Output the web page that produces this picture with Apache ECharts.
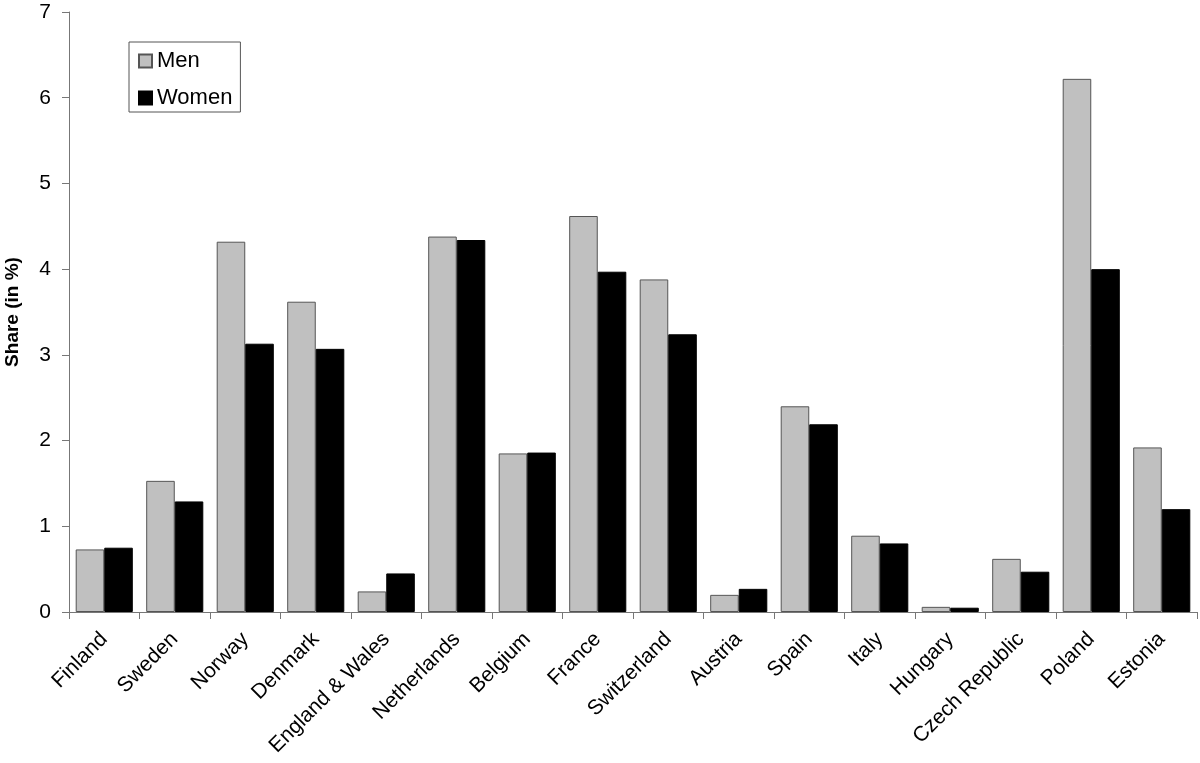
<!DOCTYPE html>
<html>
<head>
<meta charset="utf-8">
<script src="https://cdn.jsdelivr.net/npm/echarts@6/dist/echarts.min.js"></script>
<style>
html,body{margin:0;padding:0;background:#fff;}
#chart{width:1200px;height:763px;}
</style>
</head>
<body>
<div id="chart"></div>
<script>
var categories = ["Finland","Sweden","Norway","Denmark","England & Wales","Netherlands","Belgium","France","Switzerland","Austria","Spain","Italy","Hungary","Czech Republic","Poland","Estonia"];
var men   = [0.73,1.53,4.32,3.62,0.24,4.38,1.85,4.62,3.88,0.20,2.40,0.89,0.06,0.62,6.22,1.92];
var women = [0.75,1.29,3.13,3.07,0.45,4.34,1.86,3.97,3.24,0.27,2.19,0.80,0.05,0.47,4.00,1.20];
var yTicks = [0,1,2,3,4,5,6,7];

var chart = echarts.init(document.getElementById('chart'));
var font = "Liberation Sans, Arial, sans-serif";
chart.setOption({
  animation: false,
  backgroundColor: '#fff',
  textStyle: {fontFamily: font},
  grid: {left: 69, right: 3, top: 12, bottom: 151, containLabel: false, outerBoundsMode: 'none'},
  legend: {
    orient: 'vertical',
    left: 129, top: 42,
    padding: [8, 8, 3, 9],
    borderColor: '#555', borderWidth: 1,
    itemWidth: 13, itemHeight: 13, itemGap: 15,
    icon: 'rect',
    textStyle: {fontSize: 22, color: '#000', fontFamily: font},
    data: ['Men','Women']
  },
  xAxis: {
    type: 'category',
    data: categories,
    axisLine: {lineStyle: {color: '#777', width: 1}},
    axisTick: {show: true, length: 7, lineStyle: {color: '#777'}},
    axisLabel: {rotate: 45, fontSize: 21, color: '#000', margin: 24, interval: 0, fontFamily: font}
  },
  yAxis: {
    type: 'value',
    min: yTicks[0], max: yTicks[yTicks.length-1], interval: 1,
    name: 'Share (in %)',
    nameLocation: 'middle',
    nameGap: 47,
    nameTextStyle: {fontSize: 19, fontWeight: 'bold', color: '#000', fontFamily: font},
    splitLine: {show: false},
    axisLine: {show: true, lineStyle: {color: '#777', width: 1}},
    axisTick: {show: true, length: 7, lineStyle: {color: '#777'}},
    axisLabel: {fontSize: 21, color: '#000', margin: 18, fontFamily: font}
  },
  series: [
    {name: 'Men', type: 'bar', data: men, barGap: '0%', barCategoryGap: '19%',
     itemStyle: {color: '#c0c0c0', borderColor: '#555', borderWidth: 1}},
    {name: 'Women', type: 'bar', data: women, barGap: '0%', barCategoryGap: '19%',
     itemStyle: {color: '#000', borderColor: '#000', borderWidth: 1}}
  ]
});
</script>
</body>
</html>
